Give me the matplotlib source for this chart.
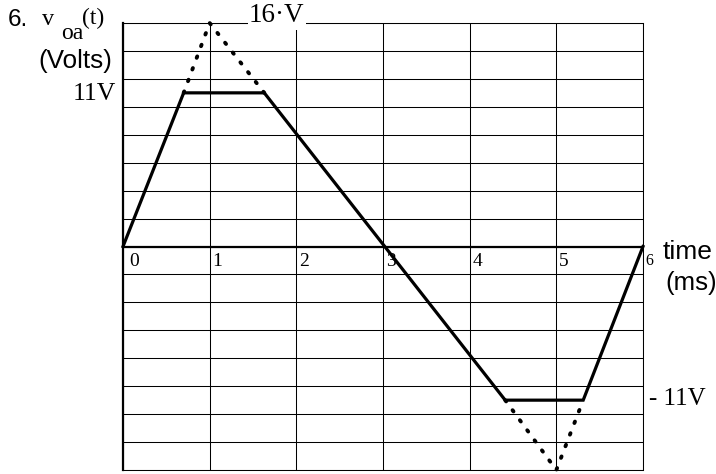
import matplotlib
matplotlib.use("Agg")
import matplotlib.pyplot as plt

# waveform (time in ms, voltage in V)
t_solid = [0, 0.70, 1.63, 4.41, 5.31, 6]
v_solid = [0, 11, 11, -11, -11, 0]
t_peak_pos = [0.70, 1.0, 1.63]
v_peak_pos = [11, 16, 11]
t_peak_neg = [4.41, 5.0, 5.31]
v_peak_neg = [-11, -16, -11]

time_ticks = [0, 1, 2, 3, 4, 5, 6]
volt_grid = list(range(-16, 17, 2))

SERIF = "Liberation Serif"
SANS = "Liberation Sans"
W, H = 716, 474


def px(x, y):
    # pixel position (top-left origin) -> figure fraction
    return x / W, 1 - y / H


fig = plt.figure(figsize=(W / 100, H / 100), dpi=100)
ax = fig.add_axes([123 / W, 4 / H, 520 / W, 447 / H])
ax.set_xlim(0, 6)
ax.set_ylim(-16, 16)
ax.set_xticks(time_ticks)
ax.set_yticks(volt_grid)
ax.tick_params(length=0, labelbottom=False, labelleft=False)
ax.grid(True, color="black", lw=0.75)
for side in ["top", "right", "bottom"]:
    ax.spines[side].set_linewidth(0.75)
ax.spines["left"].set_linewidth(1.6)
ax.axhline(0, color="black", lw=1.6, zorder=2)

ax.plot(t_solid, v_solid, color="black", lw=2.3, zorder=4, clip_on=False,
        solid_joinstyle="miter")
for tt, vv in [(t_peak_pos, v_peak_pos), (t_peak_neg, v_peak_neg)]:
    ax.plot(tt, vv, color="black", lw=2.8, dashes=(0.4, 2.8),
            dash_capstyle="round", zorder=4, clip_on=False)

# time tick numbers, just right of each grid line under the zero axis
for t in time_ticks:
    off = 0.07 if t == 0 else 0.03
    ax.text(t + off, -1.05, str(t), family=SERIF,
            fontsize=11.5 if t == 6 else 14, ha="left", va="center")

# title / axis annotations
fig.text(*px(8, 26), "6.", family=SANS, fontsize=17.5, va="baseline")
fig.text(*px(42, 25), "v", family=SERIF, fontsize=17.5, va="baseline")
fig.text(*px(61, 39), "oa", family=SERIF, fontsize=17, va="baseline")
fig.text(*px(82, 24), "(t)", family=SERIF, fontsize=17, va="baseline")
fig.text(*px(38, 61), "(Volts)", family=SANS, fontsize=18.8, va="center")
fig.text(*px(116, 94), "11V", family=SERIF, fontsize=18.5, ha="right", va="center")
fig.text(*px(249, 16), "16\u00b7V", family=SERIF, fontsize=19.5, va="center",
         bbox=dict(facecolor="white", edgecolor="none", pad=1))
fig.text(*px(663, 252), "time", family=SANS, fontsize=19, va="center")
fig.text(*px(665, 283), "(ms)", family=SANS, fontsize=18.5, va="center")
fig.text(*px(649, 399), "- 11V", family=SERIF, fontsize=18, va="center")

fig.savefig("out.png", dpi=100)
